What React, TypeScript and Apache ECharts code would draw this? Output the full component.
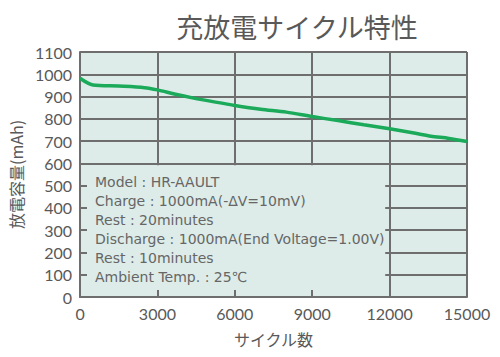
import React, { useEffect, useRef } from "react";
import * as echarts from "echarts";

const cycles = [0, 500, 1500, 2500, 3000, 3700, 4400, 5200, 6000, 7000, 8000, 9000, 10000, 11000, 12000, 13000, 13600, 14300, 15000];
const capacity = [982, 952, 947, 940, 930, 910, 893, 876, 860, 843, 830, 810, 792, 773, 755, 735, 722, 712, 698];
const infoLines = [
  "Model : HR-AAULT",
  "Charge : 1000mA(-ΔV=10mV)",
  "Rest : 20minutes",
  "Discharge : 1000mA(End Voltage=1.00V)",
  "Rest : 10minutes",
  "Ambient Temp. : 25℃",
];
const title = "充放電サイクル特性";
const xName = "サイクル数";
const yName = "放電容量(mAh)";
// extent of the condition box (data coordinates)
const boxXMax = 11830;
const boxYMax = 592;

const FONT = "Lato, 'Noto Sans CJK JP', sans-serif";
const CJK_FONT = "'Noto Sans CJK JP', sans-serif";
const BOX_FONT = "'DejaVu Sans', 'Noto Sans CJK JP', sans-serif";
const GRID_COLOR = "#6e6e6e";
const TEXT_COLOR = "#595959";
const BG = "#ddece8";

export default function App() {
  const ref = useRef<HTMLDivElement>(null);
  useEffect(() => {
    if (!ref.current) return;
    const chart = echarts.init(ref.current, undefined, { renderer: "svg" });
    const plain = (v: number) => String(v);
    chart.setOption({
      animation: false,
      backgroundColor: "#ffffff",
      title: {
        text: title,
        left: 292,
        top: 8,
        textAlign: "center",
        textStyle: { fontFamily: CJK_FONT, fontSize: 27, fontWeight: "normal", color: TEXT_COLOR },
      },
      grid: { left: 79, top: 52, right: 33, bottom: 60, show: true, backgroundColor: BG, borderWidth: 0 },
      xAxis: [
        {
          type: "value", min: 0, max: 15000, interval: 3000, position: "bottom",
          name: xName, nameLocation: "middle", nameGap: 34,
          nameTextStyle: { fontFamily: CJK_FONT, fontSize: 16, color: TEXT_COLOR },
          axisLine: { show: true, onZero: false, lineStyle: { color: GRID_COLOR, width: 2 } },
          axisTick: { show: true, inside: true, length: 7, lineStyle: { color: GRID_COLOR, width: 2 } },
          axisLabel: { fontFamily: FONT, fontSize: 16, color: TEXT_COLOR, margin: 8, formatter: plain },
          splitLine: { show: false }, z: 10,
        },
        {
          type: "value", min: 0, max: 15000, interval: 3000, position: "top",
          axisLine: { show: false }, axisTick: { show: false }, axisLabel: { show: false },
          splitLine: { show: true, lineStyle: { color: GRID_COLOR, width: 2 } }, z: 0,
        },
      ],
      yAxis: [
        {
          type: "value", min: 0, max: 1100, interval: 100, position: "left",
          name: yName, nameLocation: "middle", nameGap: 41,
          nameTextStyle: { fontFamily: CJK_FONT, fontSize: 16, color: TEXT_COLOR },
          axisLine: { show: true, onZero: false, lineStyle: { color: GRID_COLOR, width: 2 } },
          axisTick: { show: true, inside: true, length: 7, lineStyle: { color: GRID_COLOR, width: 2 } },
          axisLabel: { fontFamily: FONT, fontSize: 16, color: TEXT_COLOR, margin: 8, formatter: plain },
          splitLine: { show: false }, z: 10,
        },
        {
          type: "value", min: 0, max: 1100, interval: 100, position: "right",
          axisLine: { show: false }, axisTick: { show: false }, axisLabel: { show: false },
          splitLine: { show: true, lineStyle: { color: GRID_COLOR, width: 2 } }, z: 0,
        },
      ],
      graphic: infoLines.map((t, i) => ({
        type: "text", z: 16, x: 95, y: 182 + i * 18.9,
        style: { text: t, fontFamily: BOX_FONT, fontSize: 14, fill: "#666666", verticalAlign: "middle", align: "left" },
      })),
      series: [
        {
          type: "line", xAxisIndex: 0, yAxisIndex: 0, data: [], z: 5, silent: true,
          markArea: {
            silent: true,
            itemStyle: { color: BG, opacity: 1, borderWidth: 0 },
            data: [[{ coord: [0, 0] }, { coord: [boxXMax, boxYMax] }]],
          },
        },
        {
          type: "line", xAxisIndex: 0, yAxisIndex: 0,
          data: cycles.map((c, i) => [c, capacity[i]]),
          smooth: 0.3, showSymbol: false, lineStyle: { color: "#1aaa5a", width: 3.5 }, z: 20,
        },
      ],
    });
    return () => chart.dispose();
  }, []);
  return <div ref={ref} style={{ position: "absolute", left: 0, top: 0, width: 500, height: 357 }} />;
}
